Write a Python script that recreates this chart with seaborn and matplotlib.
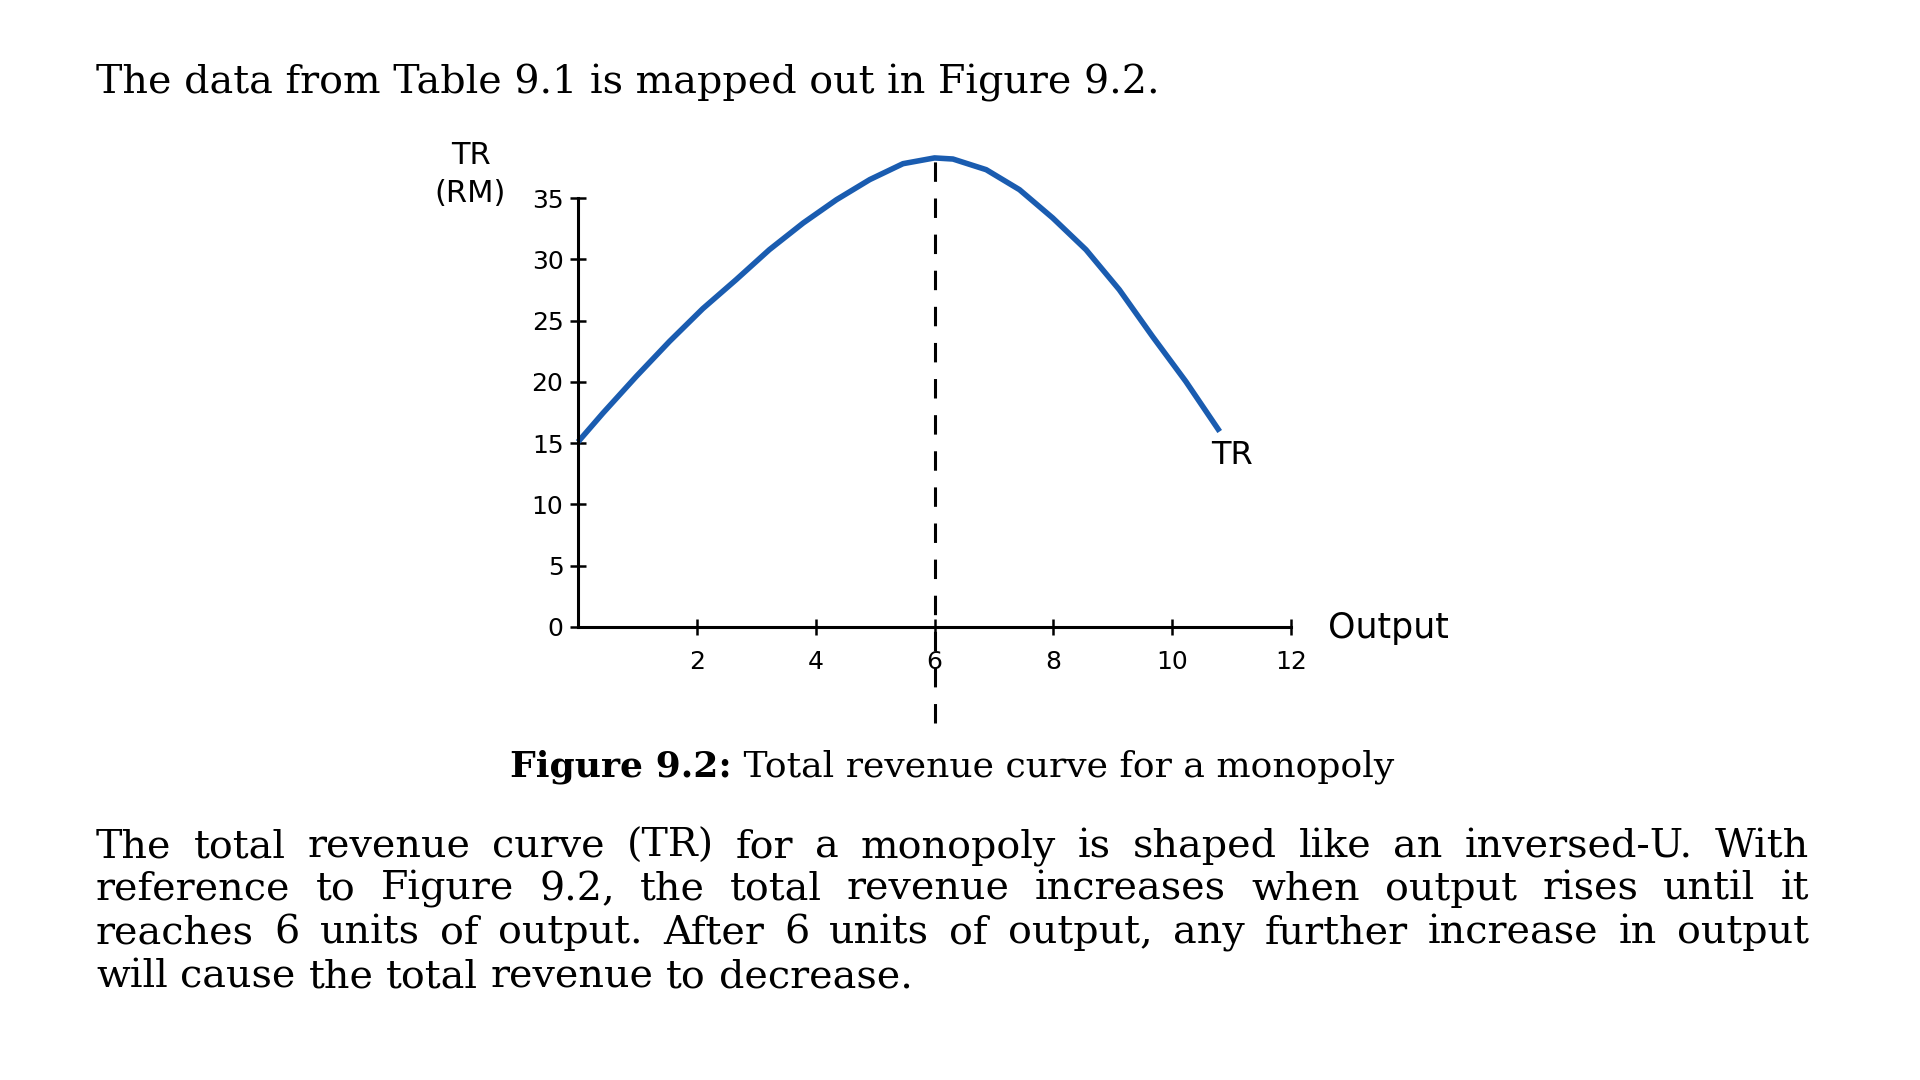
import numpy as np
import pandas as pd
import seaborn as sns
import matplotlib
matplotlib.use("Agg")
import matplotlib.pyplot as plt

# Data (output in units, TR in RM)
output = [0, 0.42, 0.98, 1.54, 2.10, 2.66, 3.22, 3.79, 4.35, 4.91, 5.47, 6.0,
          6.31, 6.87, 7.43, 7.99, 8.55, 9.11, 9.67, 10.23, 10.80]
tr = [15.1, 17.45, 20.44, 23.3, 25.97, 28.33, 30.78, 32.96, 34.86, 36.5, 37.8,
      38.27, 38.18, 37.31, 35.68, 33.37, 30.78, 27.52, 23.7, 20.03, 15.95]
x_ticks = [2, 4, 6, 8, 10, 12]
y_ticks = [0, 5, 10, 15, 20, 25, 30, 35]

intro = "The data from Table 9.1 is mapped out in Figure 9.2."
caption_bold = "Figure 9.2:"
caption_rest = " Total revenue curve for a monopoly"
paragraph = [
    "The total revenue curve (TR) for a monopoly is shaped like an inversed-U. With",
    "reference to Figure 9.2, the total revenue increases when output rises until it",
    "reaches 6 units of output. After 6 units of output, any further increase in output",
    "will cause the total revenue to decrease.",
]

df = pd.DataFrame({"Output": output, "TR": tr})

sns.set_style("ticks")
plt.rcParams["font.family"] = ["DejaVu Sans"]
plt.rcParams["text.color"] = "black"
plt.rcParams["lines.scale_dashes"] = False

W, H = 1920, 1080
fig = plt.figure(figsize=(W / 100, H / 100), dpi=100)
fig.patch.set_facecolor("white")


def px(x, y):
    return x / W, 1 - y / H


ax = fig.add_axes([578 / W, 453 / H, 713 / W, 429 / H])
ax.set_facecolor("white")

sns.lineplot(data=df, x="Output", y="TR", ax=ax, color="#1a5cb0", lw=4.0,
             clip_on=False, solid_capstyle="butt", solid_joinstyle="round")

# dashed line at the output where TR peaks
peak_x = df.loc[df["TR"].idxmax(), "Output"]
ax.vlines(peak_x, -7.8, 39.2, colors="black", lw=2.2,
          linestyles=(0, (14, 12)), clip_on=False, zorder=1)

ax.set_xlim(0, 12)
ax.set_ylim(0, 35)
ax.set_xticks(x_ticks)
ax.set_yticks(y_ticks)
ax.set_xlabel("")
ax.set_ylabel("")
sns.despine(ax=ax)
for s in ["left", "bottom"]:
    ax.spines[s].set_linewidth(2.2)
    ax.spines[s].set_color("black")
ax.tick_params(axis="x", direction="inout", length=11, width=1.8,
               pad=11, labelsize=18, colors="black", bottom=True)
ax.tick_params(axis="y", direction="inout", length=11, width=1.8,
               pad=5, labelsize=18, colors="black", left=True)

# labels
fig.text(*px(471, 156), "TR", ha="center", va="center", fontsize=22)
fig.text(*px(470, 193), "(RM)", ha="center", va="center", fontsize=22)
fig.text(*px(1328, 628), "Output", ha="left", va="center", fontsize=25)
ax.text(11.0, 14.0, "TR", ha="center", va="center", fontsize=23)

serif = ["DejaVu Serif"]

fig.text(*px(96, 93), intro, ha="left", va="baseline", fontsize=28.5,
         family=serif)

# caption: bold part then regular part
renderer = fig.canvas.get_renderer()
cb = fig.text(0, 0, caption_bold, fontsize=26, fontweight="bold", family=serif)
cr = fig.text(0, 0, caption_rest, fontsize=26, family=serif)
wb = cb.get_window_extent(renderer).width
wr = cr.get_window_extent(renderer).width
cx0 = 952 - (wb + wr) / 2
cb.set_position(px(cx0, 776))
cr.set_position(px(cx0 + wb, 776))
cb.set_va("baseline")
cr.set_va("baseline")

# justified paragraph
left, right = 96, 1809
baselines = [857, 900, 943, 987]
t = fig.text(0, 0, "a a", fontsize=28.5, family=serif)
t2 = fig.text(0, 0, "aa", fontsize=28.5, family=serif)
space_w = t.get_window_extent(renderer).width - t2.get_window_extent(renderer).width
t.remove()
t2.remove()
for i, line in enumerate(paragraph):
    words = line.split(" ")
    objs = [fig.text(0, 0, w, fontsize=28.5, family=serif, va="baseline")
            for w in words]
    widths = [o.get_window_extent(renderer).width for o in objs]
    if i < len(paragraph) - 1:
        gap = (right - left - sum(widths)) / (len(words) - 1)
    else:
        gap = space_w
    x = left
    for o, w in zip(objs, widths):
        o.set_position(px(x, baselines[i]))
        x += w + gap

fig.savefig("out.png", dpi=100, facecolor="white")
